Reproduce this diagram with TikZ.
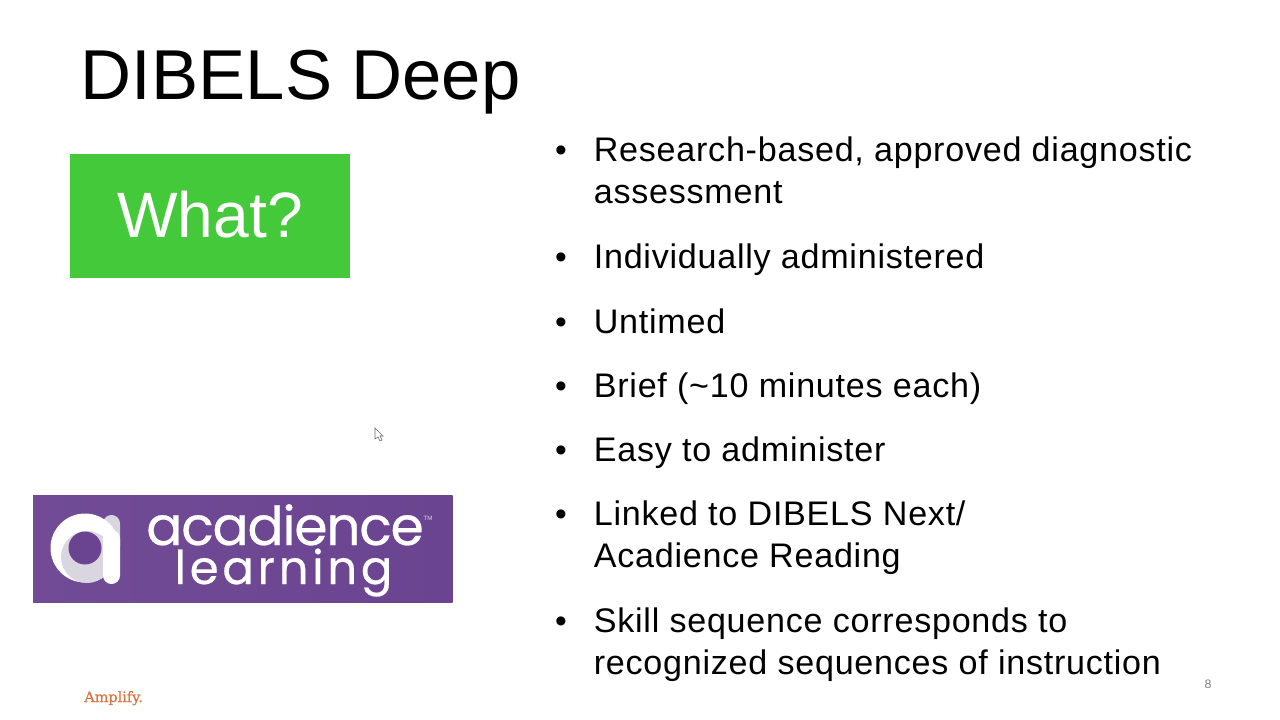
\documentclass[tikz,border=0pt]{standalone}
\usepackage{fontspec}
\setmainfont{Liberation Sans}
\newfontfamily\bodyfont[LetterSpace=2.2]{Liberation Sans}
\newfontfamily\logofont[FakeBold=0.5,LetterSpace=-2.4]{Poppins}
\newfontfamily\logowide[FakeBold=0.5,LetterSpace=8]{Poppins}
\newfontfamily\brandfont[FakeBold=0.4]{DejaVu Serif}
\definecolor{whatgreen}{HTML}{44C93A}
\definecolor{logopurple}{HTML}{6B4491}
\definecolor{logogrey}{HTML}{DAD6E0}
\definecolor{brandorange}{HTML}{D9733D}
\tikzset{
	titletext/.style={anchor=base west, inner sep=0pt, font=\fontsize{40.2}{41}\selectfont},
	bullettext/.style={anchor=base west, inner sep=0pt, font=\bodyfont\fontsize{19.4}{20}\selectfont},
	bulletdot/.style={anchor=base, inner sep=0pt, font=\fontsize{19}{20}\selectfont},
	logotext/.style={anchor=base, inner sep=0pt, text=white}
}
\begin{document}
\begin{tikzpicture}[x=0.2mm, y=-0.2mm]
		%%%%% START %%%%%
		\useasboundingbox[fill=white] (0, 0) rectangle (1280, 720);

		\node[titletext] (title) at (80.5, 100) {DIBELS Deep};

		\node[fill=whatgreen, text=white, minimum width=56mm, minimum height=24.8mm, inner sep=0pt, text height=24.5pt, text depth=0pt, font=\fontsize{36.5}{37}\selectfont] (what) at (210, 216) {What?};

		% logo
		\shade[left color=logopurple!96!white, right color=logopurple] (33, 495) rectangle (452.5, 602.5);
		\fill[logogrey, rounded corners=4.8pt] (103, 515) rectangle (120, 555);
		\fill[white] (85, 548) circle (34.5);
		\fill[logogrey] (87, 557) circle (26);
		\fill[white, rounded corners=4.8pt] (103, 530) rectangle (120, 584);
		\fill[logopurple] (85, 548) circle (16.5);
		\node[logotext, font=\logofont\fontsize{30.5}{32}\selectfont] (acadience) at (285, 545) {acadience};
		\node[logotext, font=\logowide\fontsize{26.5}{32}\selectfont] (learning) at (283.5, 584) {learning};
		\node[anchor=base, inner sep=0pt, text=logogrey, font=\fontsize{3.5}{4}\selectfont] (tm) at (428, 520) {TM};

		% bullets
		\node[bullettext] (b1a) at (593.5, 162) {Research-based, approved diagnostic};
		\node[bullettext] (b1b) at (593.5, 204) {assessment};
		\node[bullettext] (b2) at (593.5, 269) {Individually administered};
		\node[bullettext] (b3) at (593.5, 333) {Untimed};
		\node[bullettext] (b4) at (593.5, 397) {Brief (\textasciitilde 10 minutes each)};
		\node[bullettext] (b5) at (593.5, 461) {Easy to administer};
		\node[bullettext] (b6a) at (593.5, 525) {Linked to DIBELS Next/};
		\node[bullettext] (b6b) at (593.5, 567) {Acadience Reading};
		\node[bullettext] (b7a) at (593.5, 632) {Skill sequence corresponds to};
		\node[bullettext] (b7b) at (593.5, 674) {recognized sequences of instruction};

		\foreach \ypos in {162, 269, 333, 397, 461, 525, 632}
			\node[bulletdot] at (561, \ypos) {\textbullet};

		\node[anchor=base west, inner sep=0pt, text=brandorange, font=\brandfont\fontsize{8.2}{9}\selectfont] (brand) at (84, 702) {Amplify.};
		\node[anchor=base, inner sep=0pt, text=black!50, font=\fontsize{7}{8}\selectfont] (page) at (1208, 688) {8};

		% cursor
		\draw[black!60, fill=white, line width=0.3pt] (375, 428) -- (375, 439) -- (378, 437) -- (380, 441) -- (382, 440) -- (380, 436) -- (383, 436) -- cycle;
		%%%%% END %%%%%
	\end{tikzpicture}
\end{document}
